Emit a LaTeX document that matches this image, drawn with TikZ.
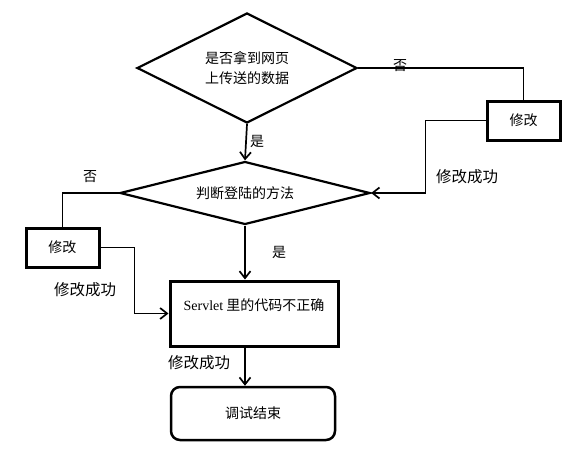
\documentclass[tikz,border=0pt]{standalone}
\usepackage{fontspec}
\setmainfont{Liberation Serif}
\newfontfamily\cjk{Noto Sans CJK SC}
\usetikzlibrary{shapes.geometric,arrows.meta}
\begin{document}
\begin{tikzpicture}[x=1pt,y=-1pt,
  txt/.style={font=\cjk\fontsize{14}{18}\selectfont,inner sep=0},
  oktxt/.style={font=\cjk\fontsize{15.5}{18}\selectfont,inner sep=0},
  decision/.style={diamond,draw,line width=2.2pt,inner sep=0,txt},
  fixbox/.style={draw,line width=3pt,minimum width=73pt,minimum height=39pt,txt},
  flow/.style={line width=1.7pt,-{Straight Barb[length=7pt,width=11pt,line width=1.7pt]}},
  plain/.style={line width=1.7pt}]
  \useasboundingbox (0,0) rectangle (571,453);
  \node[decision,aspect=2,minimum width=220pt,minimum height=110pt,align=left] (ask) at (247,68) {是否拿到网页\\[2pt]上传送的数据};
  \node[decision,aspect=4,minimum width=250pt,minimum height=63pt] (method) at (245,193) {判断登陆的方法};
  \node[fixbox] (fixr) at (523.5,120.5) {修改};
  \node[fixbox] (fixl) at (62.5,247.5) {修改};
  \node[draw,line width=3pt,minimum width=168pt,minimum height=65pt,txt,text height=10pt,text depth=17pt] (servlet) at (254,313.5) {{\rmfamily Servlet} 里的代码不正确};
  \node[draw,line width=2.5pt,rounded corners=9pt,minimum width=164pt,minimum height=53pt,txt] (done) at (253,413.5) {调试结束};
  % labels
  \node[txt] (noa) at (400,66) {否};
  \node[txt] (yesa) at (257,141) {是};
  \node[oktxt] (oka) at (467,177) {修改成功};
  \node[txt] (nob) at (90,177) {否};
  \node[txt] (yesb) at (279,252) {是};
  \node[oktxt] (okb) at (85,290) {修改成功};
  \node[oktxt] (okc) at (199,363) {修改成功};
  % connectors
  \draw[plain] (ask.east) -| (fixr.north);
  \draw[flow] (fixr.west) -- ++(-60,0) |- (method.east);
  \draw[flow] (ask.south) -- (method.north);
  \draw[plain] (method.west) -| (fixl.north);
  \draw[flow] (fixl.east) -- ++(34,0) |- (servlet.west);
  \draw[flow] (method.south) -- (method.south |- servlet.north);
  \draw[flow] (method.south |- servlet.south) -- (method.south |- done.north);
\end{tikzpicture}
\end{document}
